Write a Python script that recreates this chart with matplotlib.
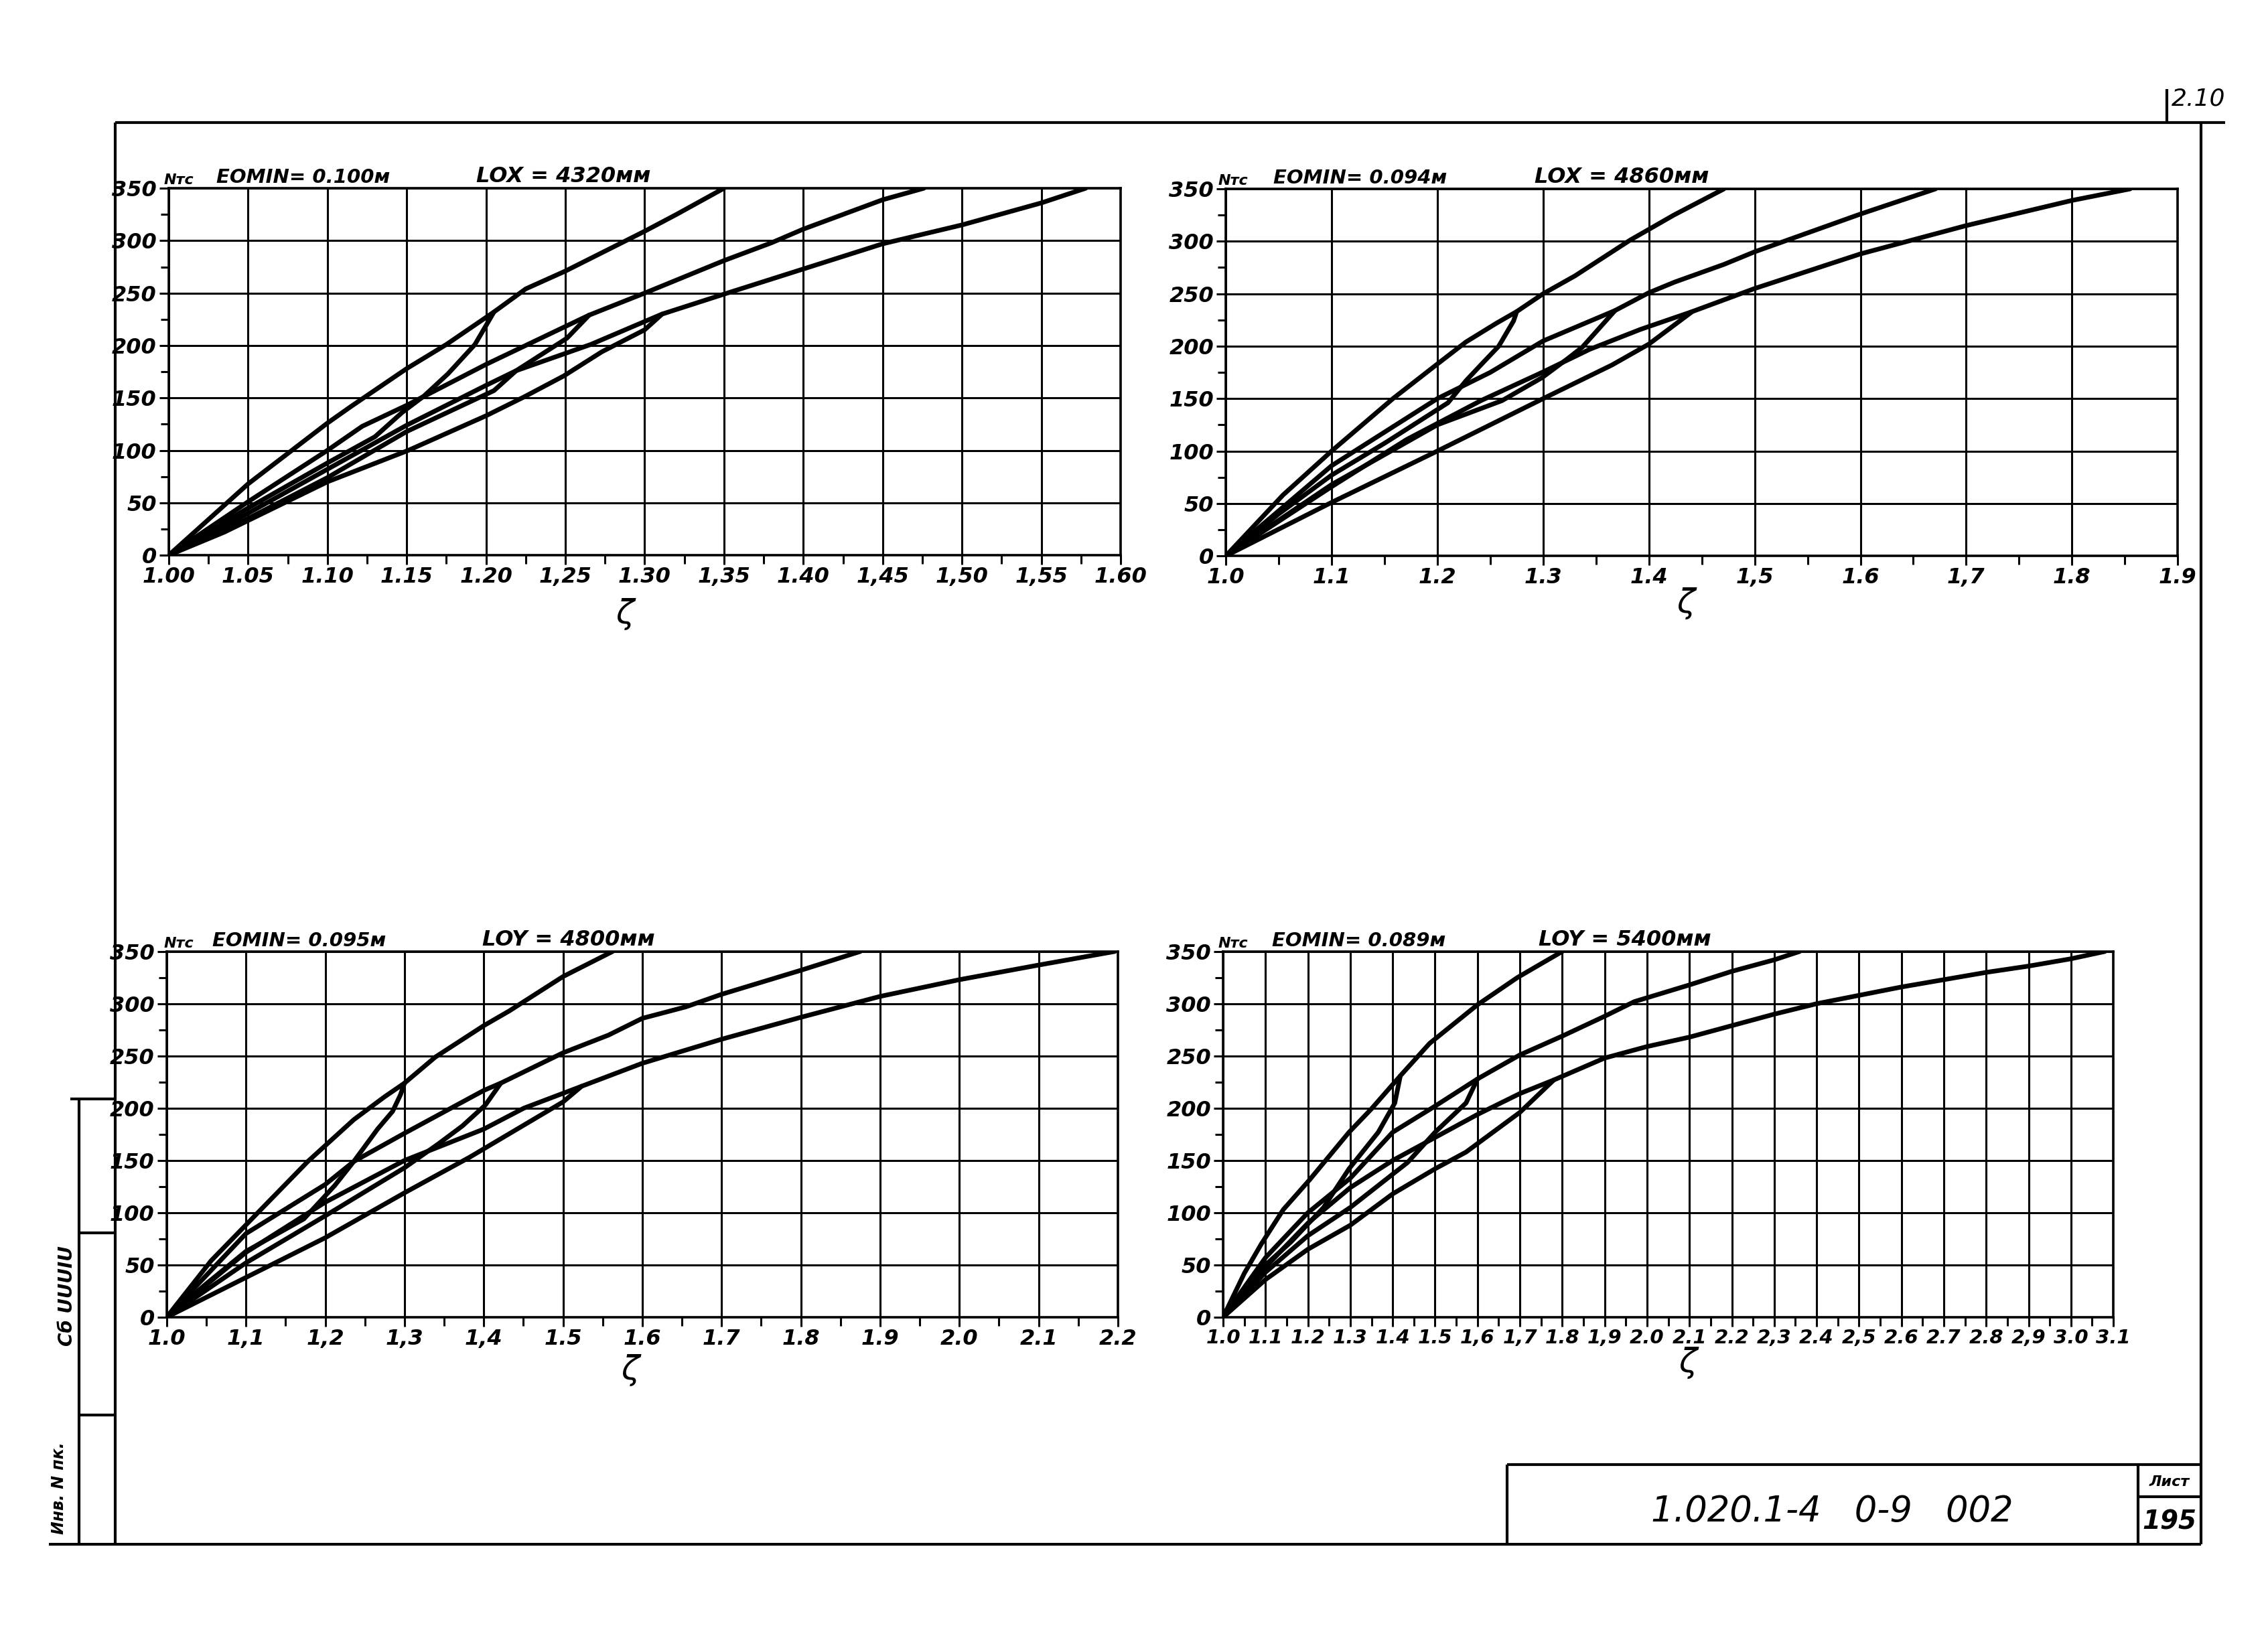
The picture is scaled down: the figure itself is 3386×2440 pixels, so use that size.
import numpy as np
import matplotlib
matplotlib.use('Agg')
import matplotlib.pyplot as plt
from matplotlib.ticker import MultipleLocator

# --- panel 1: EOMIN = 0.100, LOX = 4320 ---
p1_a_up_x = [1.00, 1.05, 1.10, 1.115, 1.15, 1.175, 1.205, 1.225, 1.25, 1.30, 1.32, 1.35]
p1_a_up_y = [0, 68, 126, 142, 178, 201, 232, 254, 271, 309, 325, 350]
p1_a_low_x = [1.00, 1.05, 1.10, 1.13, 1.147, 1.161, 1.176, 1.193, 1.205]
p1_a_low_y = [0, 45, 88, 113, 136, 152, 173, 201, 232]
p1_b_up_x = [1.00, 1.05, 1.10, 1.122, 1.15, 1.20, 1.265, 1.30, 1.35, 1.38, 1.40, 1.45, 1.476]
p1_b_up_y = [0, 51, 100, 123, 143, 182, 229, 250, 281, 298, 311, 339, 350]
p1_b_low_x = [1.00, 1.05, 1.10, 1.15, 1.205, 1.219, 1.251, 1.265]
p1_b_low_y = [0, 35, 74, 118, 157, 176, 207, 229]
p1_c_up_x = [1.00, 1.05, 1.10, 1.15, 1.20, 1.219, 1.266, 1.311, 1.35, 1.40, 1.45, 1.50, 1.55, 1.578]
p1_c_up_y = [0, 40, 82, 124, 162, 176, 201, 230, 249, 273, 297, 315, 336, 350]
p1_c_low_x = [1.00, 1.035, 1.10, 1.151, 1.20, 1.224, 1.249, 1.273, 1.30, 1.311]
p1_c_low_y = [0, 22, 70, 100, 133, 151, 171, 194, 215, 230]
p1_labels = ['1.00', '1.05', '1.10', '1.15', '1.20', '1,25', '1.30', '1,35',
             '1.40', '1,45', '1,50', '1,55', '1.60']

# --- panel 2: EOMIN = 0.094, LOX = 4860 ---
p2_a_up_x = [1.00, 1.054, 1.10, 1.158, 1.20, 1.227, 1.256, 1.275, 1.30, 1.33, 1.382, 1.4235, 1.471]
p2_a_up_y = [0, 58, 100, 150, 183, 204, 222, 233, 250, 267, 301, 325, 350]
p2_a_low_x = [1.00, 1.05, 1.10, 1.151, 1.21, 1.227, 1.241, 1.258, 1.272, 1.275]
p2_a_low_y = [0, 40, 77, 108, 146, 167, 182, 200, 224, 233]
p2_b_up_x = [1.00, 1.10, 1.20, 1.25, 1.30, 1.368, 1.40, 1.424, 1.471, 1.50, 1.60, 1.671]
p2_b_up_y = [0, 86, 150, 175, 205, 234, 251, 261, 278, 290, 326, 350]
p2_b_low_x = [1.00, 1.10, 1.20, 1.261, 1.299, 1.323, 1.337, 1.368]
p2_b_low_y = [0, 68, 125, 148, 170, 188, 199, 234]
p2_c_up_x = [1.00, 1.10, 1.171, 1.241, 1.299, 1.344, 1.392, 1.441, 1.50, 1.60, 1.70, 1.80, 1.855]
p2_c_up_y = [0, 66, 111, 148, 175, 197, 216, 233, 255, 288, 315, 339, 350]
p2_c_low_x = [1.00, 1.10, 1.20, 1.30, 1.365, 1.40, 1.441]
p2_c_low_y = [0, 51, 100, 150, 182, 202, 233]
p2_labels = ['1.0', '1.1', '1.2', '1.3', '1.4', '1,5', '1.6', '1,7', '1.8', '1.9']

# --- panel 3: EOMIN = 0.095, LOY = 4800 ---
p3_a_up_x = [1.00, 1.056, 1.115, 1.178, 1.236, 1.275, 1.30, 1.339, 1.40, 1.432, 1.50, 1.5625]
p3_a_up_y = [0, 54, 100, 149, 189, 211, 224, 249, 279, 293, 326, 350]
p3_a_low_x = [1.00, 1.05, 1.10, 1.173, 1.212, 1.236, 1.266, 1.285, 1.295, 1.30]
p3_a_low_y = [0, 32, 63, 94, 126, 149, 180, 197, 213, 224]
p3_b_up_x = [1.00, 1.10, 1.20, 1.236, 1.30, 1.40, 1.4215, 1.50, 1.5575, 1.60, 1.655, 1.70, 1.80, 1.875]
p3_b_up_y = [0, 80, 127, 149, 176, 217, 224, 253, 270, 286, 297, 309, 332, 350]
p3_b_low_x = [1.00, 1.10, 1.20, 1.30, 1.343, 1.373, 1.402, 1.4215]
p3_b_low_y = [0, 52, 97, 143, 166, 183, 203, 224]
p3_c_up_x = [1.00, 1.10, 1.20, 1.30, 1.40, 1.4505, 1.5235, 1.60, 1.70, 1.80, 1.90, 2.00, 2.10, 2.196]
p3_c_up_y = [0, 62, 110, 150, 180, 200, 221, 243, 266, 287, 307, 323, 337, 350]
p3_c_low_x = [1.00, 1.129, 1.20, 1.30, 1.382, 1.50, 1.5235]
p3_c_low_y = [0, 49, 76, 119, 153, 206, 221]
p3_labels = ['1.0', '1,1', '1,2', '1,3', '1,4', '1.5', '1.6', '1.7', '1.8', '1.9',
             '2.0', '2.1', '2.2']

# --- panel 4: EOMIN = 0.089, LOY = 5400 ---
p4_a_up_x = [1.00, 1.05, 1.09, 1.142, 1.203, 1.297, 1.349, 1.418, 1.487, 1.60, 1.694, 1.80]
p4_a_up_y = [0, 42, 70, 103, 131, 177, 199, 231, 262, 299, 325, 350]
p4_a_low_x = [1.00, 1.10, 1.16, 1.237, 1.297, 1.366, 1.405, 1.418]
p4_a_low_y = [0, 50, 72, 105, 142, 177, 205, 231]
p4_b_up_x = [1.00, 1.10, 1.20, 1.30, 1.40, 1.50, 1.60, 1.70, 1.80, 1.90, 1.97, 2.10, 2.20, 2.30, 2.36]
p4_b_up_y = [0, 57, 100, 133, 177, 202, 228, 251, 269, 288, 302, 318, 331, 342, 350]
p4_b_low_x = [1.00, 1.10, 1.20, 1.30, 1.435, 1.50, 1.573, 1.60]
p4_b_low_y = [0, 43, 78, 105, 148, 177, 205, 228]
p4_c_up_x = [1.00, 1.10, 1.20, 1.30, 1.40, 1.50, 1.60, 1.70, 1.78, 1.90, 2.00, 2.10, 2.20,
             2.30, 2.40, 2.50, 2.60, 2.70, 2.80, 2.90, 3.00, 3.08]
p4_c_up_y = [0, 48, 90, 124, 150, 172, 194, 214, 227, 248, 259, 268, 279,
             290, 300, 308, 316, 323, 330, 336, 343, 350]
p4_c_low_x = [1.00, 1.10, 1.20, 1.30, 1.40, 1.50, 1.573, 1.70, 1.78]
p4_c_low_y = [0, 36, 65, 88, 118, 142, 158, 196, 227]
p4_labels = ['1.0', '1.1', '1.2', '1.3', '1.4', '1.5', '1,6', '1,7', '1.8', '1,9', '2.0',
             '2.1', '2.2', '2,3', '2.4', '2,5', '2.6', '2.7', '2.8', '2,9', '3.0', '3.1']

plt.rcParams['font.family'] = ['DejaVu Sans']
bi = dict(fontstyle='italic', fontweight='bold')

fig = plt.figure(figsize=(33.86, 24.40), dpi=100)

# page frame (drawing sheet), in pixel units
page = fig.add_axes([0, 0, 1, 1])
page.set_xlim(0, 3386)
page.set_ylim(2440, 0)
page.axis('off')
fl = dict(color='black', lw=3, solid_capstyle='butt')
page.plot([172, 172], [183, 2306], **fl)
page.plot([172, 3322], [183, 183], **fl)
page.plot([3286, 3286], [183, 2306], **fl)
page.plot([73, 3286], [2306, 2306], **fl)
page.plot([3235, 3235], [133, 183], **fl)
page.text(3282, 148, '2.10', ha='center', va='center', fontsize=26, fontstyle='italic')
# left strip
page.plot([118, 118], [1641, 2306], **fl)
page.plot([105, 172], [1641, 1641], **fl)
page.plot([118, 172], [1841, 1841], **fl)
page.plot([118, 172], [2113, 2113], **fl)
page.text(100, 1935, 'Сб UUUIU', rotation=90, ha='center', va='center', fontsize=20, **bi)
page.text(88, 2222, 'Инв. N пк.', rotation=90, ha='center', va='center', fontsize=17, **bi)
# title block
page.plot([2250, 2250], [2187, 2306], **fl)
page.plot([2250, 3286], [2187, 2187], **fl)
page.plot([3192, 3192], [2187, 2306], **fl)
page.plot([3192, 3286], [2235, 2235], **fl)
page.text(2735, 2257, '1.020.1-4   0-9   002', ha='center', va='center', fontsize=38,
          fontstyle='italic')
page.text(3239, 2213, 'Лист', ha='center', va='center', fontsize=16, **bi)
page.text(3239, 2272, '195', ha='center', va='center', fontsize=28, **bi)


def panel(rect, xlim, xstep, xminor, labels, curves, eomin, lo, t_pos, z_pos, xsize=23):
    ax = fig.add_axes(rect)
    for x, y in curves:
        ax.plot(x, y, color='black', lw=5, solid_joinstyle='round', solid_capstyle='round')
    ax.set_xlim(*xlim)
    ax.set_ylim(0, 350)
    ax.set_xticks(np.round(np.arange(xlim[0], xlim[1] + xstep / 2, xstep), 3))
    ax.set_xticklabels(labels)
    ax.xaxis.set_minor_locator(MultipleLocator(xminor))
    ax.set_yticks(range(0, 351, 50))
    ax.yaxis.set_minor_locator(MultipleLocator(25))
    ax.grid(True, which='major', color='black', lw=2.2)
    for s in ax.spines.values():
        s.set_linewidth(2.6)
    ax.tick_params(which='both', direction='out', width=2.2, color='black')
    ax.tick_params(which='major', length=10, labelsize=23)
    ax.tick_params(which='minor', length=9)
    ax.tick_params(axis='x', pad=2, labelsize=xsize)
    ax.tick_params(axis='y', pad=3)
    for lab in ax.get_xticklabels() + ax.get_yticklabels():
        lab.set_fontstyle('italic')
        lab.set_fontweight('bold')
    ax.text(t_pos[0], 1.004, 'Nтс', transform=ax.transAxes, ha='left', va='bottom',
            fontsize=16, **bi)
    ax.text(t_pos[1], 1.004, 'EOMIN= ' + eomin, transform=ax.transAxes, ha='left',
            va='bottom', fontsize=21, **bi)
    ax.text(t_pos[2], 1.004, lo, transform=ax.transAxes, ha='left', va='bottom',
            fontsize=23, **bi)
    ax.text(z_pos[0], z_pos[1], 'ζ', transform=ax.transAxes, ha='center', va='center',
            fontsize=36, fontstyle='italic')
    return ax


panel([0.0744, 0.6602, 0.4197, 0.2246], (1.00, 1.60), 0.05, 0.025, p1_labels,
      [(p1_a_up_x, p1_a_up_y), (p1_a_low_x, p1_a_low_y),
       (p1_b_up_x, p1_b_up_y), (p1_b_low_x, p1_b_low_y),
       (p1_c_up_x, p1_c_up_y), (p1_c_low_x, p1_c_low_y)],
      '0.100м', 'LOX = 4320мм', (-0.005, 0.05, 0.323), (0.479, -0.16))

panel([0.5405, 0.6598, 0.4197, 0.2246], (1.0, 1.9), 0.1, 0.05, p2_labels,
      [(p2_a_up_x, p2_a_up_y), (p2_a_low_x, p2_a_low_y),
       (p2_b_up_x, p2_b_up_y), (p2_b_low_x, p2_b_low_y),
       (p2_c_up_x, p2_c_up_y), (p2_c_low_x, p2_c_low_y)],
      '0.094м', 'LOX = 4860мм', (-0.008, 0.05, 0.324), (0.483, -0.13))

panel([0.0735, 0.1939, 0.4194, 0.2238], (1.0, 2.2), 0.1, 0.05, p3_labels,
      [(p3_a_up_x, p3_a_up_y), (p3_a_low_x, p3_a_low_y),
       (p3_b_up_x, p3_b_up_y), (p3_b_low_x, p3_b_low_y),
       (p3_c_up_x, p3_c_up_y), (p3_c_low_x, p3_c_low_y)],
      '0.095м', 'LOY = 4800мм', (-0.003, 0.048, 0.332), (0.487, -0.145))

panel([0.5393, 0.1939, 0.3925, 0.2238], (1.0, 3.1), 0.1, 0.05, p4_labels,
      [(p4_a_up_x, p4_a_up_y), (p4_a_low_x, p4_a_low_y),
       (p4_b_up_x, p4_b_up_y), (p4_b_low_x, p4_b_low_y),
       (p4_c_up_x, p4_c_up_y), (p4_c_low_x, p4_c_low_y)],
      '0.089м', 'LOY = 5400мм', (-0.006, 0.055, 0.354), (0.522, -0.125), xsize=21)

fig.savefig('out.png', dpi=100)
